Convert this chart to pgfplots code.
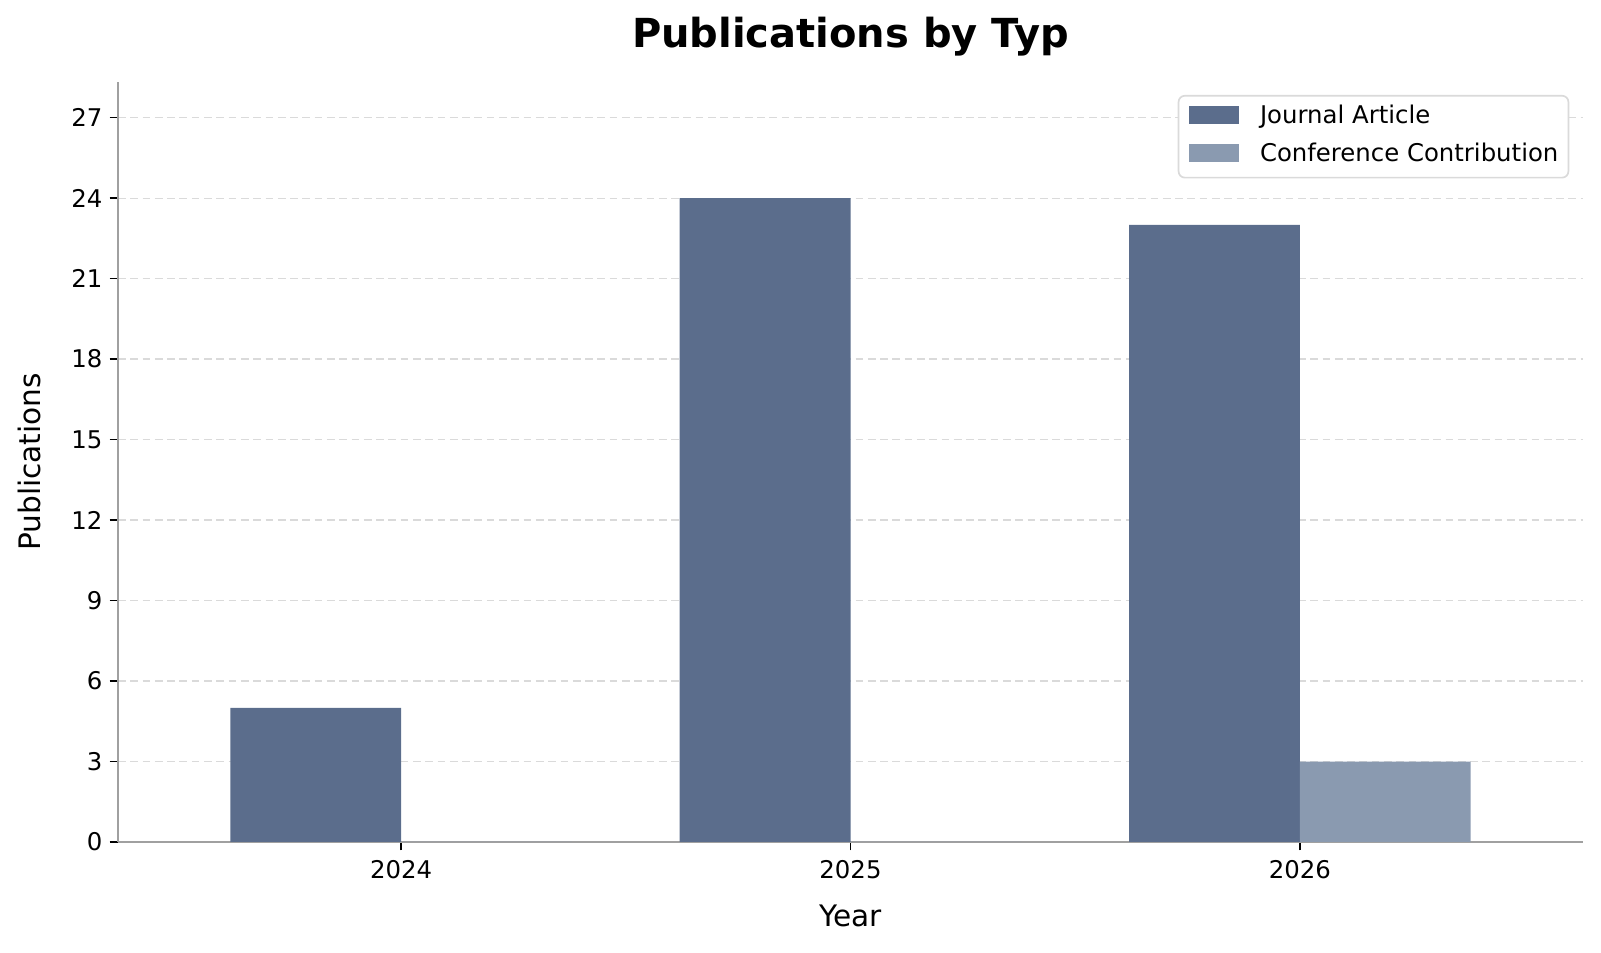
\documentclass[border=0pt]{standalone}
\usepackage{fontspec}
\setmainfont{DejaVu Sans}
\usepackage{pgfplots}
\pgfplotsset{compat=1.18}
\definecolor{journal}{HTML}{5B6D8C}
\definecolor{conf}{HTML}{8A9AB0}
\definecolor{spine}{HTML}{A0A0A0}
\definecolor{gridc}{HTML}{DADADA}

\begin{document}
\begin{tikzpicture}
\path[use as bounding box] (0,0) rectangle (768.48pt,457.44pt);
\begin{axis}[
    at={(56.64pt,53.28pt)}, anchor=south west,
    scale only axis, width=703.2pt, height=364.8pt,
    xmin=-0.63, xmax=2.63, ymin=0, ymax=28.33,
    xtick={0,1,2}, xticklabels={2024,2025,2026},
    ytick={0,3,...,27},
    axis x line*=bottom, axis y line*=left,
    axis line style={draw=spine, line width=0.8pt, -},
    tick align=outside, major tick length=4pt,
    tick style={black, line width=0.7pt},
    ymajorgrids,
    grid style={gridc, dash pattern=on 3.7pt off 2.2pt, line width=0.6pt},
    ticklabel style={font=\fontsize{11.7}{14}\selectfont},
    xticklabel style={yshift=-1.4pt},
    /pgf/number format/assume math mode=true,
    title={Publications by Typ},
    title style={at={(axis description cs:0.5,1.046)}, anchor=base, yshift=-6.3pt,
        font=\bfseries\fontsize{19.2}{23}\selectfont},
    xlabel={Year},
    xlabel style={at={(axis description cs:0.5,-0.1118)}, anchor=base,
        font=\fontsize{14.2}{17}\selectfont},
    ylabel={Publications},
    ylabel style={at={(axis description cs:-0.05276,0.5)}, anchor=base,
        font=\fontsize{14.2}{17}\selectfont},
    legend style={at={(0.9906,0.983)}, anchor=north east,
        draw=gridc, fill=white, rounded corners=3pt, line width=0.8pt,
        font=\fontsize{11.7}{14}\selectfont,
        inner xsep=1.8pt, inner ysep=3.0pt, row sep=3.3pt, column sep=6.9pt,
        nodes={inner xsep=3pt, inner ysep=2pt, text height=8.5pt, text depth=2.5pt}},
    legend cell align=left,
]
% Journal Article
\addplot[ybar, fill=journal, draw=none, bar width=0.38, bar shift=-0.19,
    legend image code/.code={\path (0pt,0pt);
        \fill[journal, sharp corners] (3.4pt,-2.9pt) rectangle (27.4pt,5.4pt);}]
    coordinates {(0,5) (1,24) (2,23)};
\addlegendentry{Journal Article}
% Conference Contribution
\addplot[ybar, fill=conf, draw=none, bar width=0.38, bar shift=0.19,
    legend image code/.code={\path (0pt,0pt);
        \fill[conf, sharp corners] (3.4pt,-2.9pt) rectangle (27.4pt,5.4pt);}]
    coordinates {(0,0) (1,0) (2,3)};
\addlegendentry{Conference Contribution}
\end{axis}
\end{tikzpicture}
\end{document}
